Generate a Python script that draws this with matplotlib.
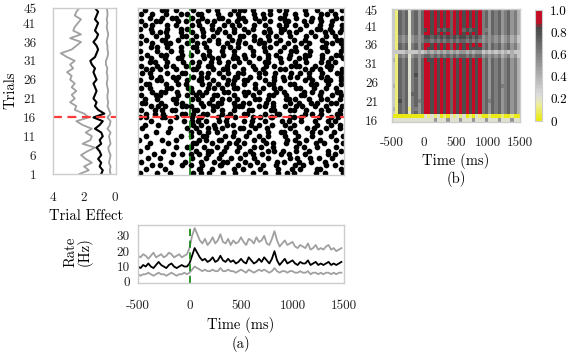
#!/usr/bin/env python3
"""Spike raster with trial effect, PSTH and trial-similarity heatmap."""

import matplotlib
matplotlib.use("Agg")
import matplotlib.pyplot as plt
import numpy as np
from matplotlib.colors import LinearSegmentedColormap

plt.rcParams["font.family"] = "cmr10"
plt.rcParams["axes.unicode_minus"] = False

# ---- data ----------------------------------------------------------------
TRIALS = np.arange(1, 46)
TIME_EDGES = (-500, 1500)
BIN_MS = 50

# trial effect (x axis of left panel), trial 1 -> 45
EFFECT_MEAN = [0.9, 0.8, 1.0, 0.9, 1.1, 0.9, 1.0, 1.2, 0.9, 1.0, 0.8, 0.9, 1.3, 1.0, 0.8,
               1.4, 0.7, 1.1, 1.3, 1.2, 1.4, 1.3, 1.2, 1.3, 1.4, 1.2, 1.3, 1.4, 1.3, 1.5,
               1.6, 1.3, 1.2, 1.1, 1.2, 1.4, 1.2, 1.1, 1.3, 1.2, 1.1, 1.3, 1.2, 1.1, 1.3]
EFFECT_UPPER = [2.3, 1.7, 2.0, 1.5, 1.9, 2.2, 1.8, 1.3, 2.1, 1.6, 1.5, 1.9, 1.5, 2.1, 2.5,
                1.7, 2.0, 2.6, 2.5, 2.9, 2.6, 2.8, 2.5, 2.8, 2.6, 2.9, 2.8, 3.1, 2.7, 2.9,
                2.6, 3.1, 3.5, 2.8, 2.5, 2.2, 2.9, 2.2, 2.7, 2.6, 2.4, 2.2, 2.6, 2.5, 2.3]
EFFECT_LOWER = [0.3, 0.35, 0.3, 0.4, 0.35, 0.3, 0.4, 0.45, 0.3, 0.35, 0.4, 0.3, 0.5, 0.35, 0.3,
                0.5, 0.3, 0.4, 0.5, 0.45, 0.5, 0.5, 0.45, 0.5, 0.55, 0.5, 0.5, 0.55, 0.5, 0.6,
                0.6, 0.5, 0.45, 0.5, 0.5, 0.55, 0.5, 0.45, 0.5, 0.55, 0.5, 0.55, 0.5, 0.5, 0.55]

# spike raster: one string per trial (1 -> 45), one char per 50 ms bin;
# a digit marks a spike and gives its position inside the bin in tenths
RASTER = [
    "3..7..2..." "6.28..5.8." "..4.7..19." "2...6.3..8",
    ".5...2...." ".81.4...7." "3..6...2.9" ".4..73...5",
    "..8.3...6." "2.5..91..4" ".7..2.8..." "5.1...6.3.",
    "6.....4..2" "..3.8.52.." "7..1..9.4." ".2.6..3..7",
    ".9..3....." "4..2.7..18" "..6..3...5" "8..4.1.6..",
    "...2..7.5." "38.6..2..." "7.4.1..8.3" "..5...9.2.",
    "4...8....." ".3.61.7..2" ".8...35.1." "6..2..8..4",
    ".7.....3.6" "2.8..4.1.7" "..59..3..." "6.2.8...4.",
    "..4..8...." "72..3..6.1" "5...9.2.7." ".3..6.1..8",
    "2...6..4.." ".8.3.71..5" "..6.2...9." "4.7..3..5.",
    ".6......3." "3.72..8.4." "9..5.2..6." ".1.7...4.8",
    "...4.8...." "29.5.3..7." ".6...2.84." "5..8.3..1.",
    "7.....3..6" ".2.59.4..8" "3.7..1...5" "..8.2.6..3",
    ".4.8......" "6.2.7..35." ".9.4..1.6." "2...8..5.3",
    "..6...2.9." "47.3.8.1.." "5.2.6..9.4" ".7..3.8.2.",
    "45..72.3.." "583..6.29." "..47.81..5" "36...2.58.",
    ".6.38...52" "7.64..38.." "52..7.93.." "..48.6..73",
    "5..37.62.." "84..5.3.7." ".62..84..5" "3.7..69..2",
    "..58.3..64" "2.7.53..86" "1..47.2.5." "68..3.5..7",
    "73..5..46." "..38.52.7." "46..8.3..5" ".2.67..45.",
    ".4.6..83.." "57..4.36.2" "..75.3..84" "5..2.67..3",
    "6..43..7.5" ".25.83..6." "7.4..52.8." ".63..4.7.5",
    "..7.52.6.." "48.3..75.." "63.5..8.4." "..37.5..62",
    "5.3..64..8" "2..57.4.63" "..8.3.56.." "74..2.6.5.",
    ".62..5.7.3" "..48.6.25." "5.7..43..6" "3..56.8..4",
    "4..75..3.6" ".83.5..47." "62..7.5.3." "..48..63.5",
    "..5.3.78.." "6.24..5.83" ".7.5..4.26" "8..3.57..4",
    "7.4..6..52" "..36.8.4.5" "3..57.6..8" ".4.2.7..65",
    ".58.3..4.." "73..6.52.." "4.8.3..65." "..57.4.3.6",
    "5..6.48..3" ".7.52..36." "..4.8.5..7" "62..3.75..",
    "..43.6..7." "58..27.4.6" ".5..63.8.." "4.7..58.2.",
    "6.5..3.74." "..8.46..53" "7..5.2.6.4" ".35..7.4.8",
    ".7..54..6." "3.68..5.7." "5.4..37..6" "..52.8..43",
    "4..6..5.3." ".5.7..4.6." "..3.6..5.8" "6..4..7..5",
    "..56.7..4." "62.3..58.4" ".7..46..3." "5.6..73..8",
    "3.7..52..6" ".48..6.3.5" "7..54.8..2" ".6.3..57.4",
    ".5..63.7.." "4..8.5..36" "..67.4.5.." "3.5..8..64",
    "6..4.7..53" ".27.5..6.8" "4.5..37..6" "..6.4.5.3.",
    "..8.35..4." "5.6..48.7." ".3..56.7.4" "7..5..36.2",
    "4.6..7..35" "..5.38..6." "6.4..5.73." ".5..74.3.6",
    ".37..6.4.." "58..4.7.36" "..5.6..48." "4.7..3.5.6",
    "6..53..7.4" ".6.48..5.3" "7..4.6..52" "..36.5.7..",
    "..4.7.63.." "4.5..73..6" "3.7.5..64." "6..8.3..57",
    "5.7..4..36" ".63..5.8.4" "..5.37..6." "4.6..57.3.",
    ".4..65.3.." "7..5.4..68" "5.3..6.47." "..5.7..4.6",
]

# firing rate (Hz) every 25 ms from -500 ms
RATE_T = np.arange(-500, 1500, 25)
RATE_MEAN = [10, 9, 11, 10, 12, 10, 9, 11, 13, 11, 10, 9, 11, 12, 10, 9, 10, 11, 10, 10,
             12, 17, 22, 19, 16, 14, 15, 13, 14, 16, 13, 14, 17, 14, 13, 15, 13, 14, 12, 13,
             15, 13, 12, 16, 14, 12, 13, 15, 13, 16, 14, 12, 15, 20, 14, 11, 13, 15, 12, 13,
             14, 12, 11, 13, 12, 12, 14, 11, 12, 13, 11, 12, 11, 12, 13, 11, 12, 11, 12, 13]
RATE_UPPER = [17, 16, 18, 17, 15, 17, 19, 16, 17, 18, 16, 17, 19, 18, 16, 17, 18, 16, 17, 18,
              22, 30, 35, 31, 27, 25, 28, 24, 26, 29, 25, 27, 31, 26, 25, 28, 24, 27, 25, 26,
              29, 26, 24, 28, 27, 25, 29, 26, 27, 30, 25, 24, 28, 33, 27, 23, 25, 27, 24, 25,
              26, 23, 22, 24, 23, 22, 25, 21, 22, 24, 21, 22, 21, 23, 24, 21, 22, 20, 21, 22]
RATE_LOWER = [5, 4, 5, 5, 6, 5, 4, 5, 6, 5, 5, 4, 5, 6, 5, 4, 5, 5, 6, 5,
              6, 8, 10, 9, 8, 7, 8, 7, 7, 8, 7, 7, 9, 7, 7, 8, 7, 7, 6, 7,
              8, 7, 6, 8, 7, 6, 7, 8, 7, 8, 7, 6, 7, 9, 7, 6, 7, 7, 6, 7,
              7, 6, 6, 7, 6, 6, 7, 5, 6, 6, 5, 6, 5, 6, 6, 5, 6, 5, 6, 6]

# heatmap rows for trials 16 -> 45, one char per 50 ms bin ('X' = 1.0)
HEAT_TRIALS = np.arange(16, 46)
HEAT_ROWS = [
    "2222222222" "222522252225222522" "252225222522",
    "0000000000" "212120102121201021" "001000100100",
    "3176726757" "XX8X8X8X7X8X8X8X8X" "675767567564",
    "4176716657" "XX8X8X8X7X8X8X8X8X" "675767567564",
    "3176726757" "XX8X8X8X7X8X8X8X8X" "675767567564",
    "3186726767" "XX8X8X8X7X8X8X8X8X" "676767567564",
    "3176726757" "XX8X8X8X7X8X8X8X8X" "675767567564",
    "3176727757" "XX8X8X8X7X8X8X8X8X" "675767567564",
    "3176726757" "XX8X8X8X7X8X8X8X8X" "675767567564",
    "4176726757" "XX8X8X8X7X8X8X8X8X" "675767667564",
    "3176726757" "XX8X8X8X7X8X8X8X8X" "675767567564",
    "3176726757" "XX8X8X8X7X8X8X8X8X" "675767567564",
    "3176726857" "XX8X8X8X7X8X8X8X8X" "675767567564",
    "3176726757" "XX8X8X8X7X8X8X8X8X" "675767567564",
    "3176726757" "XX8X8X8X7X8X8X8X8X" "675767567564",
    "3176726757" "XX8X8X8X7X8X8X8X8X" "675767567564",
    "4176726757" "X88X8X8X7X8X8X8X8X" "675767567564",
    "3165625656" "776767676767767677" "565656456453",
    "3333433343" "454545454545545455" "343434343433",
    "3176726757" "X88X8X8X7X8X8X8888" "675767567564",
    "3176726757" "XX8X8X8X7X8X8X8X8X" "675767567564",
    "3165625656" "776767676767767676" "565656456453",
    "3165625656" "887878787878878787" "565656456453",
    "3176726757" "XX8X8X8X7X8X8X8X8X" "675767567564",
    "3176726757" "8X8X78787X8X78788X" "665767567564",
    "3176726757" "XX8X8X8X7X8X8X8X8X" "675767567564",
    "3176726757" "XX8X8X8X7X8X8X8X8X" "675767567564",
    "3176726757" "XX8X8X8X7X8X8X8X8X" "675767567564",
    "3176726757" "XX8X8X8X7X8X8X8X8X" "675767567564",
    "3176726757" "XX8X8X8X7X8X8X8X8X" "675767567564",
]

TIME_TICKS = [-500, 0, 500, 1000, 1500]
TIME_LABELS = ["-500", "0", "500", "1000", "1500"]
TRIAL_TICKS = [1, 6, 11, 16, 21, 26, 31, 36, 41, 45]
HEAT_TICKS = [16, 21, 26, 31, 36, 41, 45]
CBAR_TICKS = [0, 0.2, 0.4, 0.6, 0.8, 1.0]
CBAR_LABELS = ["0", "0.2", "0.4", "0.6", "0.8", "1.0"]

# ---- styling --------------------------------------------------------------
W, H = 577, 357
SPINE = "#cccccc"
GRAY = "#a0a0a0"
RED = "#ff3a3a"
GREEN = "#1d8a1d"
TICK_FS = 9.5
LABEL_FS = 10.5


def box(x0, y0, x1, y1):
    """Pixel box (top-left origin) -> figure fraction rect."""
    return [x0 / W, 1 - y1 / H, (x1 - x0) / W, (y1 - y0) / H]


def px(x, y):
    return x / W, 1 - y / H


def style(ax, pad_x=4, pad_y=4):
    for sp in ax.spines.values():
        sp.set_color(SPINE)
        sp.set_linewidth(1.0)
    ax.tick_params(length=0, labelsize=TICK_FS, colors="#222222")
    ax.tick_params(axis="x", pad=pad_x)
    ax.tick_params(axis="y", pad=pad_y)


fig = plt.figure(figsize=(W / 100, H / 100), dpi=100)

# trial effect panel
ax_te = fig.add_axes(box(53, 8, 116, 174))
ax_te.plot(EFFECT_UPPER, TRIALS, color=GRAY, lw=1.3)
ax_te.plot(EFFECT_LOWER, TRIALS, color=GRAY, lw=1.3)
ax_te.plot(EFFECT_MEAN, TRIALS, color="black", lw=1.5)
ax_te.axhline(16, color=RED, lw=1.6, dashes=(4, 2.5))
ax_te.set_xlim(4.0, -0.05)
ax_te.set_ylim(1, 45)
ax_te.set_xticks([4, 2, 0])
ax_te.set_xticklabels(["4", "2", "0"])
ax_te.set_yticks(TRIAL_TICKS)
style(ax_te, pad_x=13, pad_y=12)

# raster panel
ax_r = fig.add_axes(box(138, 8, 344, 175))
for trial, row in zip(TRIALS, RASTER):
    times = [TIME_EDGES[0] + BIN_MS * (i + int(c) / 10) for i, c in enumerate(row) if c.isdigit()]
    ax_r.plot(times, [trial] * len(times), "o", color="black", ms=4.1, mew=0)
ax_r.axhline(16, color=RED, lw=1.6, dashes=(4, 2.5))
ax_r.axvline(0, color=GREEN, lw=1.3, dashes=(4, 2.5))
ax_r.set_xlim(*TIME_EDGES)
ax_r.set_ylim(0.4, 45.6)
ax_r.set_xticks([])
ax_r.set_yticks([])
style(ax_r)

# rate panel
ax_rate = fig.add_axes(box(138, 225, 344, 283))
ax_rate.plot(RATE_T, RATE_UPPER, color=GRAY, lw=1.3)
ax_rate.plot(RATE_T, RATE_LOWER, color=GRAY, lw=1.3)
ax_rate.plot(RATE_T, RATE_MEAN, color="black", lw=1.3)
ax_rate.axvline(0, color=GREEN, lw=1.3, dashes=(4, 2.5))
ax_rate.set_xlim(*TIME_EDGES)
ax_rate.set_ylim(-0.7, 37)
ax_rate.set_xticks(TIME_TICKS)
ax_rate.set_xticklabels(TIME_LABELS)
ax_rate.set_yticks([0, 10, 20, 30])
style(ax_rate, pad_x=12, pad_y=6)

# heatmap panel
cmap = LinearSegmentedColormap.from_list(
    "yg_r",
    [(0.0, (0.92, 0.92, 0.08)), (0.14, (0.93, 0.93, 0.62)), (0.22, (0.87, 0.87, 0.87)),
     (0.85, (0.27, 0.27, 0.27)), (0.9, (0.74, 0.06, 0.15)), (1.0, (0.78, 0.04, 0.14))],
    N=40,
)
heat = np.array([[1.0 if c == "X" else int(c) / 10 for c in row] for row in HEAT_ROWS])
ax_h = fig.add_axes(box(392, 9, 520, 122))
im = ax_h.imshow(heat, origin="lower", aspect="auto", cmap=cmap, vmin=0, vmax=1,
                 extent=[TIME_EDGES[0], TIME_EDGES[1], HEAT_TRIALS[0] - 0.5, HEAT_TRIALS[-1] + 0.5],
                 interpolation="nearest")
ax_h.set_xticks(TIME_TICKS)
ax_h.set_xticklabels(TIME_LABELS)
ax_h.set_yticks(HEAT_TICKS)
style(ax_h, pad_x=11, pad_y=10)

ax_c = fig.add_axes(box(535, 10, 542, 121))
cb = fig.colorbar(im, cax=ax_c, ticks=CBAR_TICKS)
cb.ax.set_yticklabels(CBAR_LABELS)
cb.outline.set_edgecolor(SPINE)
cb.ax.tick_params(length=0, labelsize=TICK_FS, pad=6)

# labels
fig.text(*px(11, 90), "Trials", rotation=90, ha="center", va="center", fontsize=LABEL_FS)
fig.text(*px(86, 216), "Trial Effect", ha="center", va="center", fontsize=LABEL_FS)
fig.text(*px(78, 252), "Rate\n(Hz)", rotation=90, ha="center", va="center",
         fontsize=LABEL_FS, linespacing=0.95)
fig.text(*px(241, 325), "Time (ms)", ha="center", va="center", fontsize=LABEL_FS)
fig.text(*px(241, 344), "(a)", ha="center", va="center", fontsize=LABEL_FS)
fig.text(*px(456, 161), "Time (ms)", ha="center", va="center", fontsize=LABEL_FS)
fig.text(*px(456, 179), "(b)", ha="center", va="center", fontsize=LABEL_FS)

fig.savefig("out.png", dpi=100)
